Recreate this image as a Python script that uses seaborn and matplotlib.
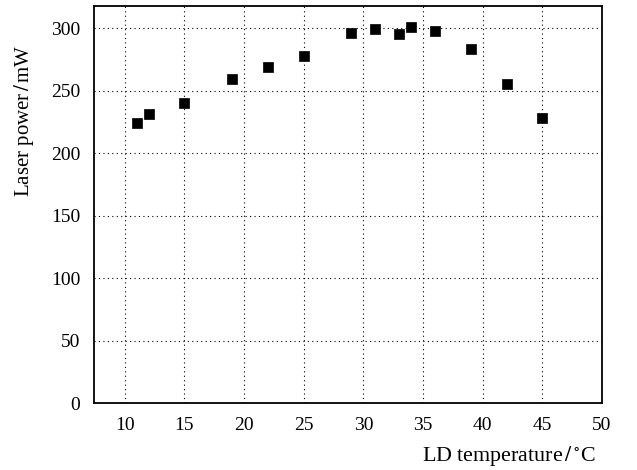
import matplotlib
matplotlib.use("Agg")
import matplotlib.pyplot as plt
import seaborn as sns
import pandas as pd

temperature = [11, 12, 15, 19, 22, 25, 29, 31, 33, 34, 36, 39, 42, 45]
power = [224, 231, 240, 259, 269, 278, 296, 299, 295, 301, 298, 283, 255, 228]

sns.set_theme(style="white")
plt.rcParams['font.family'] = ['Liberation Serif', 'DejaVu Serif']
plt.rcParams['mathtext.fontset'] = 'stix'

df = pd.DataFrame({"t": temperature, "p": power})

fig = plt.figure(figsize=(6.37, 4.70), dpi=100)
ax = fig.add_axes([0.148, 0.142, 0.797, 0.846])
sns.scatterplot(data=df, x="t", y="p", marker="s", s=58, color="black",
                edgecolor="black", linewidth=0.5, ax=ax, zorder=3)

ax.set_xlim(7.45, 50)
ax.set_ylim(0, 318)
ax.set_xticks([10, 15, 20, 25, 30, 35, 40, 45, 50])
ax.set_yticks([0, 50, 100, 150, 200, 250, 300])
ax.grid(True, color="black", linestyle=(0, (1, 3)), linewidth=0.8)
for s in ax.spines.values():
    s.set_color("black")
    s.set_linewidth(1.3)
ax.tick_params(axis="both", length=0, labelsize=14, colors="black", pad=10)
ax.set_xlabel(r"LD temperature$\,/\,^{\circ}$C", fontsize=15.8, color="black")
ax.set_ylabel(r"Laser power$\,/\,$mW", fontsize=15, color="black")
ax.xaxis.set_label_coords(0.816, -0.102)
ax.yaxis.set_label_coords(-0.114, 0.71)

fig.savefig("out.png", dpi=100)
